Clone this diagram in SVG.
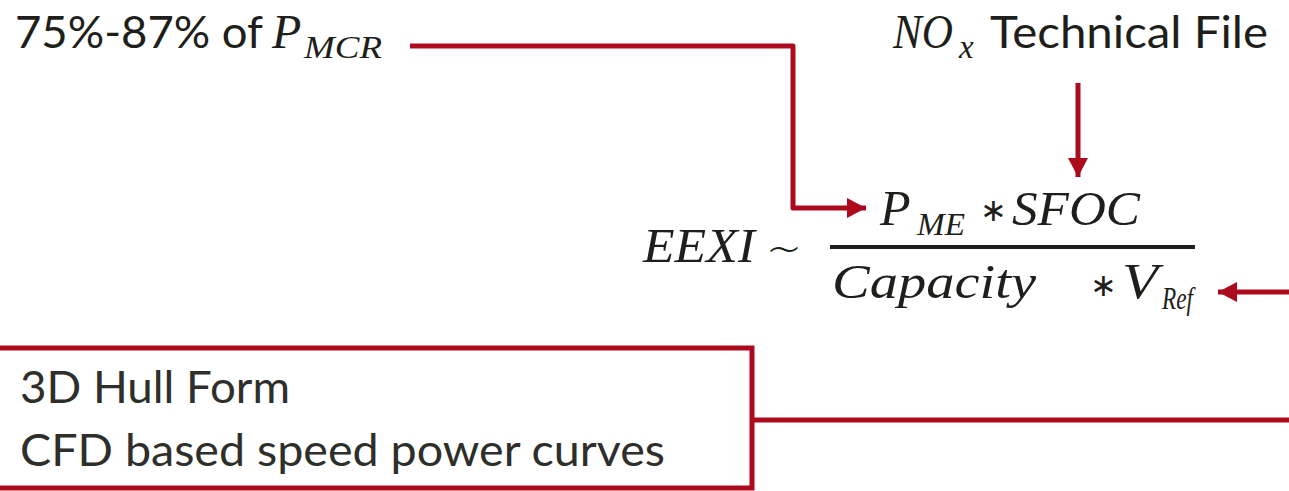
<svg xmlns="http://www.w3.org/2000/svg" width="1289" height="491" viewBox="0 0 1289 491">
<style>
.txt{font-family:Lato,"Open Sans","Liberation Sans",sans-serif;fill:#1e1e1a;}
.box{font-family:Lato,"Open Sans","Liberation Sans",sans-serif;fill:#2e2e2a;font-size:44px;}
.m{font-family:"Liberation Serif","DejaVu Serif",serif;font-style:italic;fill:#1e1e1a;}
.op{font-family:"DejaVu Sans",sans-serif;fill:#1e1e1a;}
.conn{fill:none;stroke:#ad0a1e;stroke-width:5;stroke-linejoin:round;}
</style>
<defs>
<marker id="ah" markerUnits="userSpaceOnUse" markerWidth="20" markerHeight="20" refX="19" refY="10" orient="auto">
<path d="M0,0 L19,10 L0,20 z" fill="#ad0a1e"/>
</marker>
</defs>

<g id="pmcr">
<text class="txt" x="15" y="48" font-size="44" textLength="248" lengthAdjust="spacingAndGlyphs">75%-87% of</text>
<text class="m" x="272" y="48" font-size="48">P</text>
<text class="m" x="304" y="58" font-size="31" textLength="78" lengthAdjust="spacingAndGlyphs">MCR</text>
</g>

<g id="nox">
<text class="m" x="893" y="48" font-size="48" textLength="60" lengthAdjust="spacingAndGlyphs">NO</text>
<text class="m" x="959" y="58" font-size="33">x</text>
<text class="txt" x="990" y="48" font-size="44" textLength="278" lengthAdjust="spacingAndGlyphs">Technical File</text>
</g>

<g id="formula">
<text class="m" x="643" y="262" font-size="48" textLength="112" lengthAdjust="spacingAndGlyphs">EEXI</text>
<text class="op" x="766" y="264" font-size="46" font-weight="200" textLength="36" lengthAdjust="spacingAndGlyphs">~</text>
<text class="m" x="880" y="225" font-size="50">P</text>
<text class="m" x="917" y="235" font-size="31" textLength="48" lengthAdjust="spacingAndGlyphs">ME</text>
<text class="op" x="980" y="221" font-size="32">∗</text>
<text class="m" x="1012" y="225" font-size="48" textLength="128" lengthAdjust="spacingAndGlyphs">SFOC</text>
<rect x="830" y="245" width="365" height="4" fill="#1e1e1a"/>
<text class="m" x="832" y="298" font-size="48" textLength="204" lengthAdjust="spacingAndGlyphs">Capacity</text>
<text class="op" x="1090" y="296" font-size="32">∗</text>
<text class="m" x="1122" y="298" font-size="50" textLength="36" lengthAdjust="spacingAndGlyphs">V</text>
<text class="m" x="1162" y="309" font-size="31" textLength="31" lengthAdjust="spacingAndGlyphs">Ref</text>
</g>

<g id="hull">
<rect x="-5" y="348" width="757" height="140" fill="none" stroke="#ad0a1e" stroke-width="5"/>
<text class="box" x="20" y="403" textLength="270" lengthAdjust="spacingAndGlyphs">3D Hull Form</text>
<text class="box" x="20" y="466" textLength="645" lengthAdjust="spacingAndGlyphs">CFD based speed power curves</text>
</g>

<g id="connectors">
<path class="conn" d="M410,46 H793 V208 H866" marker-end="url(#ah)"/>
<path class="conn" d="M1078,83 V177" marker-end="url(#ah)"/>
<path class="conn" d="M1289,292 H1218" marker-end="url(#ah)"/>
<path class="conn" d="M752,420 H1289" stroke-width="6"/>
</g>
</svg>
